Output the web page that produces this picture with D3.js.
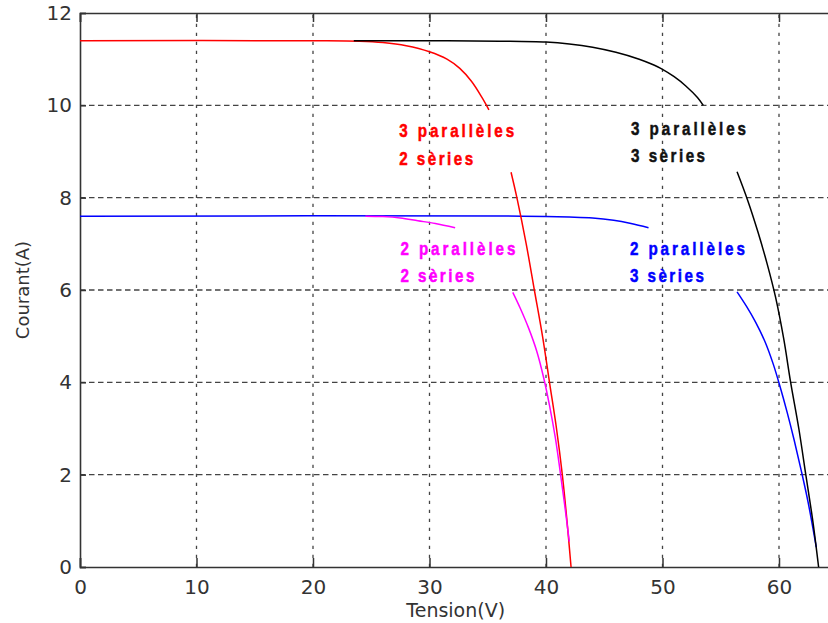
<!DOCTYPE html>
<html>
<head>
<meta charset="utf-8">
<script src="https://cdn.jsdelivr.net/npm/d3@7"></script>
<style>
  html, body { margin: 0; padding: 0; background: #fff; }
  svg { display: block; }
</style>
</head>
<body>
<svg id="chart" width="828" height="623"></svg>
<script>
// ---- data (Tension V, Courant A) ----
const xTicks = [0, 10, 20, 30, 40, 50, 60];
const yTicks = [0, 2, 4, 6, 8, 10, 12];

// 3 parallèles 2 séries (red)
const red3p2sA = [[0,11.4],[20,11.4],[24,11.39],[26,11.36],[28,11.29],[30,11.16],[31.5,11.0],[32.6,10.8],[33.6,10.52],[34.5,10.17],[35.1,9.9]];
const red3p2sB = [[37.0,8.55],[37.5,8.0],[38.3,7.0],[39.0,6.0],[39.7,5.0],[40.3,4.0],[40.9,3.0],[41.4,2.0],[41.8,1.0],[42.15,0]];
// 3 parallèles 3 séries (black)
const blk3p3sA = [[23.5,11.4],[30,11.4],[36,11.39],[40,11.37],[42,11.33],[44,11.26],[46,11.15],[48,11.0],[49,10.9],[50,10.78],[51,10.62],[52,10.42],[53,10.17],[53.5,10.0]];
const blk3p3sB = [[56.4,8.56],[57.3,7.95],[58.2,7.25],[59.0,6.55],[59.7,5.85],[60.4,4.95],[61.0,4.0],[61.7,3.0],[62.3,2.0],[62.9,1.0],[63.4,0]];
// 2 parallèles 2 séries (magenta)
const mag2p2sA = [[24.5,7.6],[26,7.59],[27.5,7.56],[29,7.5],[30.5,7.44],[32.2,7.35]];
const mag2p2sB = [[37.15,5.95],[37.8,5.6],[38.5,5.18],[39.2,4.68],[39.8,4.1],[40.3,3.5],[40.8,2.8],[41.2,2.1],[41.6,1.35],[42.0,0.55]];
// 2 parallèles 3 séries (blue)
const blu2p3sA = [[0,7.6],[38,7.6],[42,7.58],[44,7.56],[45.8,7.51],[47.3,7.44],[48.8,7.35]];
const blu2p3sB = [[56.4,5.96],[57.2,5.65],[58.0,5.3],[58.8,4.88],[59.5,4.4],[60.1,3.9],[60.7,3.35],[61.3,2.75],[61.9,2.1],[62.5,1.4],[63.2,0.43]];

const labels = [
  {lines:["3 parallèles","2 sèries"], color:"#ff0000", v:27.4, i:9.31},
  {lines:["3 parallèles","3 sèries"], color:"#111111", v:47.3, i:9.36},
  {lines:["2 parallèles","2 sèries"], color:"#ff00ff", v:27.5, i:6.76},
  {lines:["2 parallèles","3 sèries"], color:"#0000ff", v:47.2, i:6.76}
];
const labelWidths = [115, 74];

const series = [
  {segs:[blu2p3sA, blu2p3sB], color:"#0000ff"},
  {segs:[red3p2sA, red3p2sB], color:"#ff0000"},
  {segs:[mag2p2sA, mag2p2sB], color:"#ff00ff"},
  {segs:[blk3p3sA, blk3p3sB], color:"#000000"}
];

// ---- drawing ----
const svg = d3.select("#chart");
const x = d3.scaleLinear().domain([0, 64.5]).range([80, 80 + 64.5 * 11.65]);
const y = d3.scaleLinear().domain([0, 12]).range([567, 13]);
const x0 = x.range()[0], x1 = x.range()[1], y0 = y.range()[0], y1 = y.range()[1];

// grid
const grid = svg.append("g");
grid.selectAll("line.v").data(xTicks.filter(d => d > 0)).join("line")
  .attr("x1", d => x(d)).attr("x2", d => x(d)).attr("y1", y0).attr("y2", y1)
  .attr("stroke", "#444").attr("stroke-width", 1.3).attr("stroke-dasharray", "3.3,5.7");
grid.selectAll("line.h").data(yTicks.filter(d => d > 0 && d < 12)).join("line")
  .attr("y1", d => y(d)).attr("y2", d => y(d)).attr("x1", x0).attr("x2", x1)
  .attr("stroke", "#444").attr("stroke-width", 1.3).attr("stroke-dasharray", "5.5,3.5");

// axes
const xAxis = d3.axisBottom(x).tickValues(xTicks).tickSize(-9).tickPadding(13).tickFormat(d3.format("d"));
const xAxisTop = d3.axisTop(x).tickValues(xTicks).tickSize(-9).tickFormat("");
const yAxis = d3.axisLeft(y).tickValues(yTicks).tickSize(-6).tickPadding(8).tickFormat(d3.format("d"));

function styleAxis(g) {
  g.select(".domain").attr("stroke", "#333").attr("stroke-width", 1.6);
  g.selectAll(".tick line").attr("stroke", "#333").attr("stroke-width", 1.5);
  g.selectAll(".tick text").attr("fill", "#333").attr("font-family", "DejaVu Sans, sans-serif").attr("font-size", 20);
}
svg.append("g").attr("transform", `translate(0,${y0})`).call(xAxis).call(styleAxis)
  .selectAll(".tick text").attr("dy", "0.71em");
svg.append("g").attr("transform", `translate(0,${y1})`).call(xAxisTop).call(styleAxis);
svg.append("g").attr("transform", `translate(${x0},0)`).call(yAxis).call(styleAxis);

// curves
const line = d3.line().x(d => x(d[0])).y(d => y(d[1])).curve(d3.curveCatmullRom.alpha(0.5));
series.forEach(s => {
  s.segs.forEach(seg => {
    svg.append("path").datum(seg).attr("d", line)
      .attr("fill", "none").attr("stroke", s.color).attr("stroke-width", 1.5);
  });
});

// annotation labels (condensed bold)
const sx = 0.8;
labels.forEach(l => {
  l.lines.forEach((s, k) => {
    svg.append("text")
      .attr("transform", `translate(${x(l.v)},${y(l.i) + k * 27.5}) scale(${sx},1)`)
      .attr("fill", l.color).attr("stroke", l.color).attr("stroke-width", 0.5)
      .attr("font-family", "'Liberation Sans', Arial, sans-serif")
      .attr("font-weight", "bold").attr("font-size", 19)
      .attr("textLength", labelWidths[k] / sx).attr("lengthAdjust", "spacing")
      .text(s);
  });
});

// axis titles
svg.append("text").attr("transform", `translate(29,${(y0 + y1) / 2}) rotate(-90)`)
  .attr("text-anchor", "middle").attr("fill", "#333")
  .attr("font-family", "DejaVu Sans, sans-serif").attr("font-size", 18)
  .text("Courant(A)");
svg.append("text").attr("x", (x0 + x1) / 2).attr("y", 617)
  .attr("text-anchor", "middle").attr("fill", "#333")
  .attr("font-family", "DejaVu Sans, sans-serif").attr("font-size", 19)
  .text("Tension(V)");
</script>
</body>
</html>
